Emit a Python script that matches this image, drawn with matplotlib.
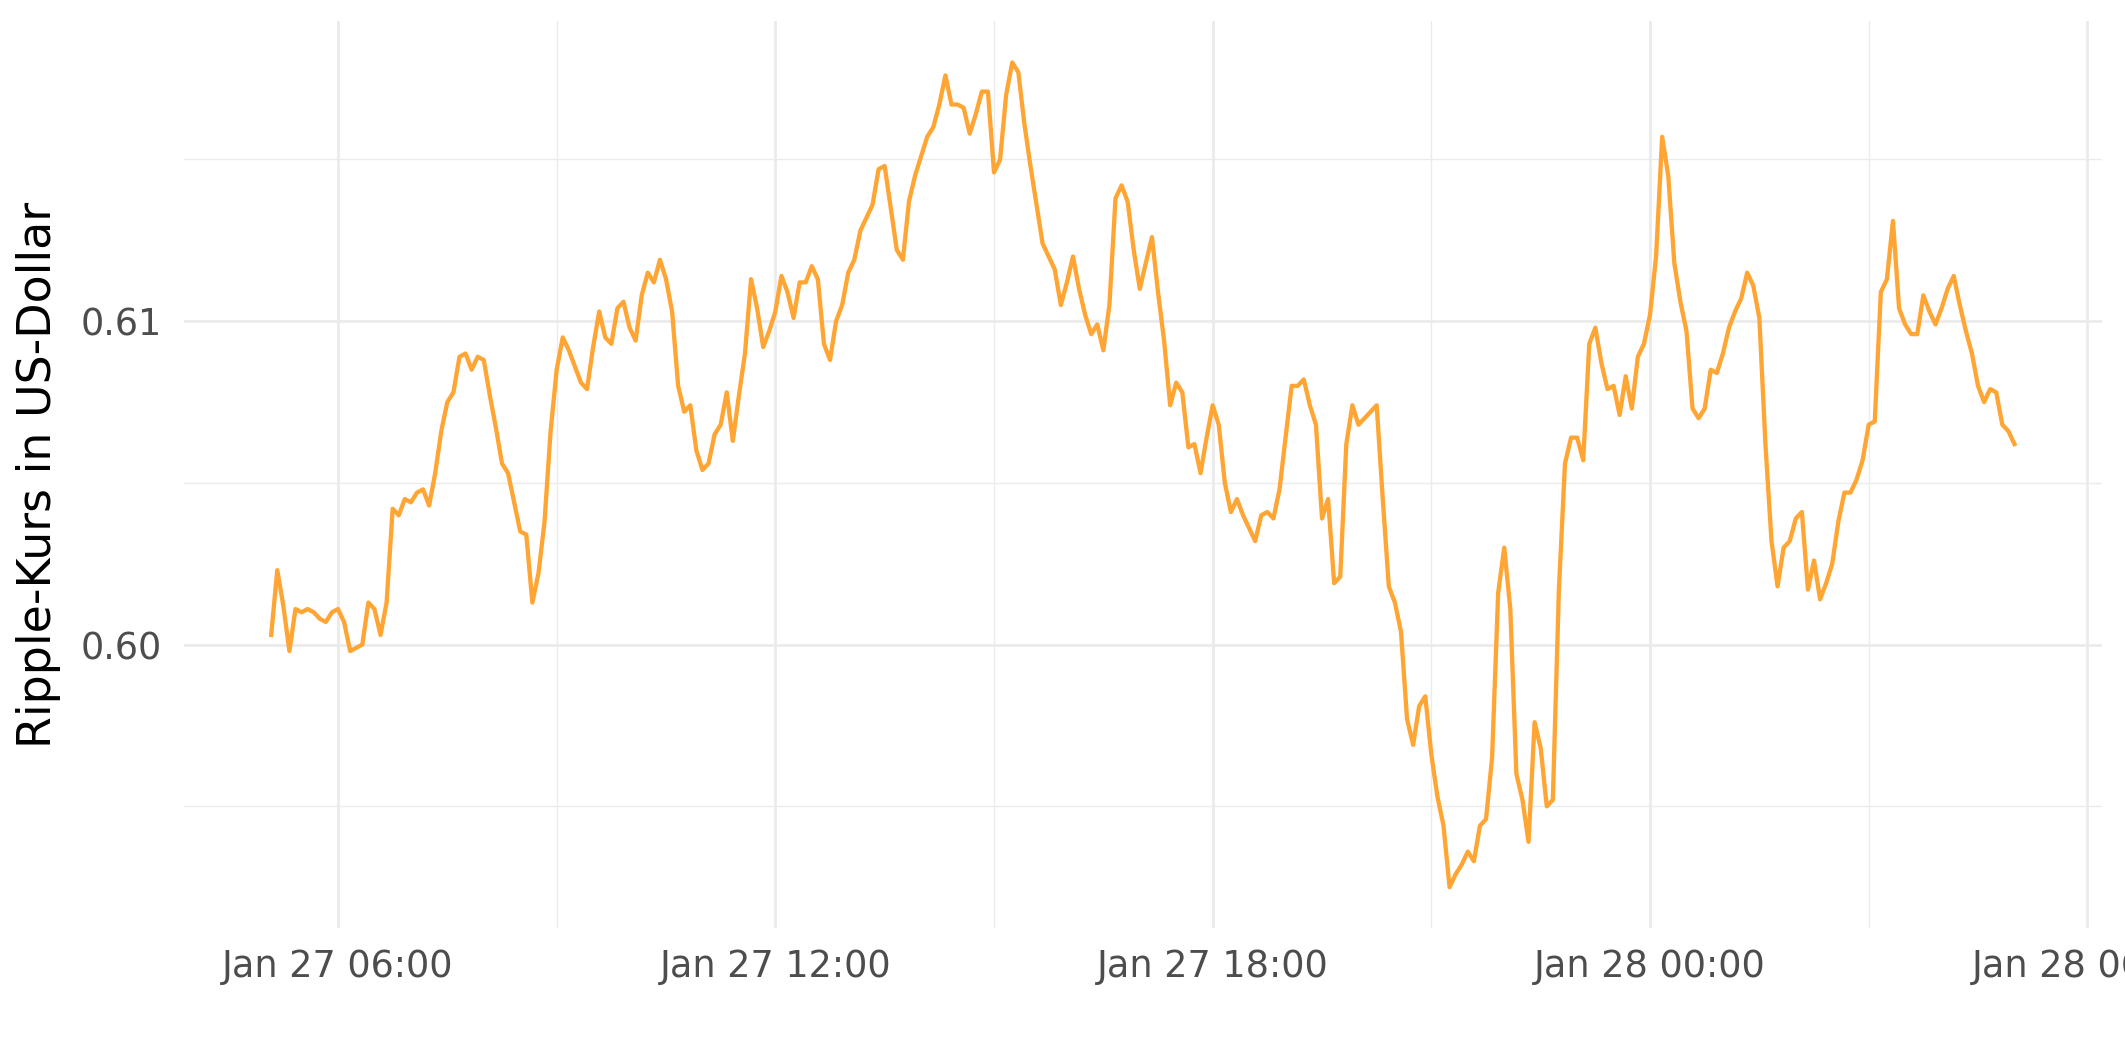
import matplotlib
matplotlib.use("Agg")
import matplotlib.pyplot as plt
import matplotlib.dates as mdates
from matplotlib.ticker import FixedLocator, FixedFormatter
import pandas as pd

# 5-minute prices
start = '2022-01-27 05:05'
prices = [
    # 05:05 - 07:45
    0.6003, 0.6023, 0.6012, 0.5998, 0.6011, 0.6010, 0.6011, 0.6010, 0.6008, 0.6007,
    0.6010, 0.6011, 0.6007, 0.5998, 0.5999, 0.6000, 0.6013, 0.6011, 0.6003, 0.6013,
    0.6042, 0.6040, 0.6045, 0.6044, 0.6047, 0.6048, 0.6043, 0.6053, 0.6066, 0.6075,
    0.6078, 0.6089, 0.6090,
    # 07:50 - 10:25
    0.6085, 0.6089, 0.6088, 0.6077, 0.6067, 0.6056, 0.6053, 0.6044, 0.6035, 0.6034,
    0.6013, 0.6022, 0.6038, 0.6066, 0.6085, 0.6095, 0.6091, 0.6086, 0.6081, 0.6079,
    0.6092, 0.6103, 0.6095, 0.6093, 0.6104, 0.6106, 0.6098, 0.6094, 0.6108, 0.6115,
    0.6112, 0.6119,
    # 10:30 - 13:10
    0.6113, 0.6103, 0.6080, 0.6072, 0.6074, 0.6060, 0.6054, 0.6056, 0.6065, 0.6068,
    0.6078, 0.6063, 0.6077, 0.6090, 0.6113, 0.6104, 0.6092, 0.6097, 0.6103, 0.6114,
    0.6109, 0.6101, 0.6112, 0.6112, 0.6117, 0.6113, 0.6093, 0.6088, 0.6100, 0.6105,
    0.6115, 0.6119, 0.6128,
    # 13:15 - 15:50
    0.6132, 0.6136, 0.6147, 0.6148, 0.6135, 0.6122, 0.6119, 0.6137, 0.6145, 0.6151,
    0.6157, 0.6160, 0.6167, 0.6176, 0.6167, 0.6167, 0.6166, 0.6158, 0.6164, 0.6171,
    0.6171, 0.6146, 0.6150, 0.6170, 0.6180, 0.6177, 0.6161, 0.6148, 0.6136, 0.6124,
    0.6120, 0.6116,
    # 15:55 - 18:30
    0.6105, 0.6112, 0.6120, 0.6110, 0.6102, 0.6096, 0.6099, 0.6091, 0.6105, 0.6138,
    0.6142, 0.6137, 0.6122, 0.6110, 0.6118, 0.6126, 0.6109, 0.6094, 0.6074, 0.6081,
    0.6078, 0.6061, 0.6062, 0.6053, 0.6064, 0.6074, 0.6068, 0.6050, 0.6041, 0.6045,
    0.6040, 0.6036,
    # 18:35 - 21:15
    0.6032, 0.6040, 0.6041, 0.6039, 0.6048, 0.6064, 0.6080, 0.6080, 0.6082, 0.6074,
    0.6068, 0.6039, 0.6045, 0.6019, 0.6021, 0.6062, 0.6074, 0.6068, 0.6070, 0.6072,
    0.6074, 0.6045, 0.6018, 0.6013, 0.6004, 0.5977, 0.5969, 0.5981, 0.5984, 0.5966,
    0.5953, 0.5944, 0.5925,
    # 21:20 - 23:55
    0.5929, 0.5932, 0.5936, 0.5933, 0.5944, 0.5946, 0.5965, 0.6016, 0.6030, 0.6011,
    0.5960, 0.5952, 0.5939, 0.5976, 0.5968, 0.5950, 0.5952, 0.6017, 0.6056, 0.6064,
    0.6064, 0.6057, 0.6093, 0.6098, 0.6087, 0.6079, 0.6080, 0.6071, 0.6083, 0.6073,
    0.6089, 0.6093,
    # 00:00 - 02:15
    0.6102, 0.6120, 0.6157, 0.6145, 0.6118, 0.6106, 0.6097, 0.6073, 0.6070, 0.6073,
    0.6085, 0.6084, 0.6090, 0.6098, 0.6103, 0.6107, 0.6115, 0.6111, 0.6101, 0.6062,
    0.6032, 0.6018, 0.6030, 0.6032, 0.6039, 0.6041, 0.6017, 0.6026,
    # 02:20 - 05:00
    0.6014, 0.6019, 0.6025, 0.6038, 0.6047, 0.6047, 0.6051, 0.6057, 0.6068, 0.6069,
    0.6109, 0.6113, 0.6131, 0.6104, 0.6099, 0.6096, 0.6096, 0.6108, 0.6103, 0.6099,
    0.6104, 0.6110, 0.6114, 0.6105, 0.6097, 0.6090, 0.6080, 0.6075, 0.6079, 0.6078,
    0.6068, 0.6066, 0.6062,
]
times = pd.date_range(start, periods=len(prices), freq='5min')

y_major = [0.60, 0.61]
y_labels = ['0.60', '0.61']
y_minor = [0.595, 0.605, 0.615]

fig = plt.figure(figsize=(10.625, 5.31), dpi=200)
ax = fig.add_axes([0.0866, 0.1258, 0.989 - 0.0866, 0.980 - 0.1258])

ax.plot(times, prices, color='#FFA534', linewidth=1.55, zorder=3)

# ggplot-like minimal theme
ax.xaxis.set_major_locator(mdates.HourLocator(byhour=[0, 6, 12, 18]))
ax.xaxis.set_minor_locator(mdates.HourLocator(byhour=[3, 9, 15, 21]))
ax.xaxis.set_major_formatter(mdates.DateFormatter('%b %d %H:%M'))
ax.yaxis.set_major_locator(FixedLocator(y_major))
ax.yaxis.set_major_formatter(FixedFormatter(y_labels))
ax.yaxis.set_minor_locator(FixedLocator(y_minor))

ax.grid(which='major', color='#EBEBEB', linewidth=1.0, zorder=0)
ax.grid(which='minor', color='#EBEBEB', linewidth=0.5, zorder=0)
ax.set_axisbelow(True)
for s in ax.spines.values():
    s.set_visible(False)
ax.tick_params(which='both', length=0)
ax.tick_params(axis='x', labelsize=13.2, labelcolor='#4D4D4D', pad=7)
ax.tick_params(axis='y', labelsize=13.2, labelcolor='#4D4D4D', pad=8)

ax.set_ylabel('Ripple-Kurs in US-Dollar', fontsize=16.5, color='black', labelpad=7)
ax.set_xlabel('')

fig.savefig('out.png', dpi=200)
